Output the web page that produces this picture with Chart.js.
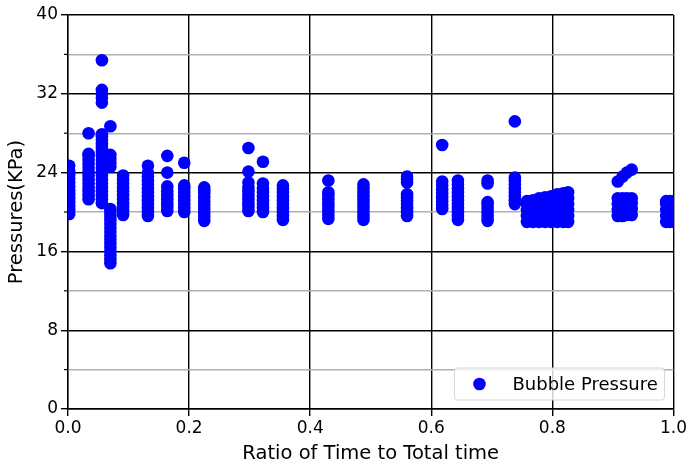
<!DOCTYPE html>
<html>
<head>
<meta charset="utf-8">
<script src="https://cdn.jsdelivr.net/npm/chart.js@4/dist/chart.umd.min.js"></script>
<style>
  body { margin: 0; background: #fff; }
  canvas { display: block; }
</style>
</head>
<body>
<canvas id="chart" width="689" height="466"></canvas>
<script>
// time ratio of each sampling group
const timeRatio = [0.002, 0.034, 0.056, 0.070, 0.091, 0.132, 0.164, 0.192, 0.225, 0.298, 0.322,
  0.355, 0.430, 0.488, 0.560, 0.618, 0.644, 0.693, 0.738,
  0.758, 0.768, 0.778, 0.788, 0.798, 0.808, 0.818, 0.826,
  0.908, 0.916, 0.923, 0.931, 0.988, 0.994, 1.000];

// bubble pressures (KPa) read at each time ratio
const pressures = [
  [19.8, 20.2, 20.6, 21.0, 21.4, 21.8, 22.2, 22.6, 23.0, 23.4, 23.8, 24.2, 24.7],
  [21.3, 21.7, 22.1, 22.5, 22.9, 23.3, 23.7, 24.1, 24.5, 24.9, 25.3, 25.7, 25.9, 28.0],
  [20.9, 21.3, 21.7, 22.1, 22.5, 22.9, 23.3, 23.7, 24.1, 24.5, 24.9, 25.3, 25.7, 26.1, 26.5, 26.9, 27.3, 27.7, 27.9,
   31.1, 31.6, 32.0, 32.4, 35.4],
  [14.8, 15.2, 15.6, 16.0, 16.4, 16.8, 17.2, 17.6, 18.0, 18.4, 18.8, 19.2, 19.6, 20.0, 20.3, 24.6, 25.0, 25.4, 25.8, 28.7],
  [19.7, 20.1, 20.5, 20.9, 21.3, 21.7, 22.1, 22.5, 22.9, 23.3, 23.7],
  [19.6, 20.0, 20.4, 20.8, 21.2, 21.6, 22.0, 22.4, 22.8, 23.2, 23.6, 24.0, 24.7],
  [20.1, 20.5, 20.9, 21.3, 21.7, 22.1, 22.6, 24.0, 25.7],
  [20.0, 20.4, 20.8, 21.2, 21.6, 22.0, 22.4, 22.7, 25.0],
  [19.1, 19.5, 19.9, 20.3, 20.7, 21.1, 21.5, 21.9, 22.2, 22.5],
  [20.1, 20.5, 20.9, 21.3, 21.7, 22.1, 22.5, 23.0, 24.1, 26.5],
  [20.0, 20.4, 20.8, 21.2, 21.6, 22.0, 22.4, 22.9, 25.1],
  [19.2, 19.6, 20.0, 20.4, 20.8, 21.2, 21.6, 22.0, 22.4, 22.7],
  [19.3, 19.7, 20.1, 20.5, 20.9, 21.3, 21.7, 22.0, 23.2],
  [19.2, 19.6, 20.0, 20.4, 20.8, 21.2, 21.6, 22.0, 22.4, 22.8],
  [19.6, 20.0, 20.4, 20.8, 21.2, 21.5, 21.8, 23.0, 23.3, 23.6],
  [20.3, 20.7, 21.1, 21.5, 21.9, 22.3, 22.7, 23.1, 26.8],
  [19.2, 19.6, 20.0, 20.4, 20.8, 21.2, 21.6, 22.0, 22.4, 22.8, 23.2],
  [19.1, 19.5, 19.9, 20.3, 20.7, 21.0, 22.9, 23.2],
  [20.8, 21.2, 21.6, 22.0, 22.4, 22.8, 23.2, 23.5, 29.2],
  [19.0, 19.6, 20.2, 20.8, 21.1],
  [19.0, 19.6, 20.2, 20.8, 21.2],
  [19.0, 19.6, 20.2, 20.8, 21.4],
  [19.0, 19.6, 20.2, 20.8, 21.5],
  [19.0, 19.6, 20.2, 20.8, 21.6],
  [19.0, 19.6, 20.2, 20.8, 21.3, 21.8],
  [19.0, 19.6, 20.2, 20.8, 21.4, 21.9],
  [19.0, 19.6, 20.2, 20.8, 21.4, 22.0],
  [19.6, 20.2, 20.8, 21.4, 23.1],
  [19.6, 20.2, 20.8, 21.4, 23.6],
  [19.7, 20.3, 20.9, 21.4, 24.0],
  [19.7, 20.3, 20.9, 21.4, 24.3],
  [19.0, 19.6, 20.2, 20.8, 21.1],
  [19.0, 19.6, 20.2, 20.8, 21.1],
  [19.0, 19.6, 20.2, 20.8, 21.1]
];

const seriesLabel = 'Bubble Pressure';

var points = [];
for (var i = 0; i < timeRatio.length; i++) {
  for (var j = 0; j < pressures[i].length; j++) {
    points.push({ x: timeRatio[i], y: pressures[i][j] });
  }
}

const tickFont = { family: 'DejaVu Sans', size: 17 };
const titleFont = { family: 'DejaVu Sans', size: 19.5 };

function isMajor(v) { return v % 8 === 0; }

// short minor ticks on the y axis (chart.js has one tickLength only)
const minorTicks = {
  id: 'minorTicks',
  afterDraw(chart) {
    const ctx = chart.ctx;
    const y = chart.scales.y;
    ctx.save();
    ctx.strokeStyle = '#000';
    ctx.lineWidth = 1.2;
    y.ticks.forEach(function (t) {
      if (isMajor(t.value)) return;
      const py = y.getPixelForValue(t.value);
      ctx.beginPath();
      ctx.moveTo(y.right - 4, py);
      ctx.lineTo(y.right, py);
      ctx.stroke();
    });
    ctx.restore();
  }
};

// legend box in lower right, matplotlib style
const legendBox = {
  id: 'legendBox',
  afterDraw(chart) {
    const ctx = chart.ctx;
    const a = chart.chartArea;
    const w = 210, h = 32;
    const x = a.right - 9 - w, y = a.bottom - 9 - h;
    ctx.save();
    ctx.beginPath();
    ctx.roundRect(x, y, w, h, 3);
    ctx.fillStyle = 'rgba(255,255,255,0.8)';
    ctx.fill();
    ctx.strokeStyle = '#d6d6d6';
    ctx.lineWidth = 1;
    ctx.stroke();
    ctx.beginPath();
    ctx.arc(x + 25, y + h / 2, 6.3, 0, Math.PI * 2);
    ctx.fillStyle = '#0000ff';
    ctx.fill();
    ctx.fillStyle = '#000';
    ctx.font = '18px "DejaVu Sans"';
    ctx.textBaseline = 'middle';
    ctx.fillText(chart.data.datasets[0].label, x + 58, y + h / 2 + 1);
    ctx.restore();
  }
};

new Chart(document.getElementById('chart'), {
  type: 'scatter',
  data: {
    datasets: [{
      label: seriesLabel,
      data: points,
      backgroundColor: '#0000ff',
      borderColor: '#0000ff',
      pointRadius: 6.3,
      pointHoverRadius: 6.3,
      borderWidth: 0,
      clip: 0
    }]
  },
  options: {
    responsive: false,
    animation: false,
    layout: { padding: { top: 15, right: 15, left: 0, bottom: 0 } },
    plugins: { legend: { display: false }, tooltip: { enabled: false } },
    scales: {
      x: {
        type: 'linear',
        min: 0, max: 1,
        afterFit: function (scale) { scale.height = 57; },
        ticks: {
          stepSize: 0.2,
          color: '#000',
          font: tickFont,
          padding: 2,
          maxRotation: 0,
          callback: function (v) { return v.toFixed(1); }
        },
        grid: { color: '#000', lineWidth: 1.4, tickLength: 7, tickColor: '#000' },
        border: { color: '#000', width: 1.4 },
        title: { display: true, text: 'Ratio of Time to Total time', color: '#000', font: titleFont, padding: { top: 0, bottom: 0 } }
      },
      y: {
        min: 0, max: 40,
        afterFit: function (scale) { scale.width = 68; },
        ticks: {
          stepSize: 4,
          color: '#000',
          font: tickFont,
          padding: 3,
          callback: function (v) { return isMajor(v) ? v : ''; }
        },
        grid: {
          color: function (c) { return isMajor(c.tick.value) ? '#000' : '#b0b0b0'; },
          lineWidth: 1.4,
          tickLength: 7,
          tickColor: function (c) { return isMajor(c.tick.value) ? '#000' : 'rgba(0,0,0,0)'; }
        },
        border: { color: '#000', width: 1.4 },
        title: { display: true, text: 'Pressures(KPa)', color: '#000', font: titleFont, padding: { top: 5, bottom: 0 } }
      }
    }
  },
  plugins: [minorTicks, legendBox]
});
</script>
</body>
</html>
